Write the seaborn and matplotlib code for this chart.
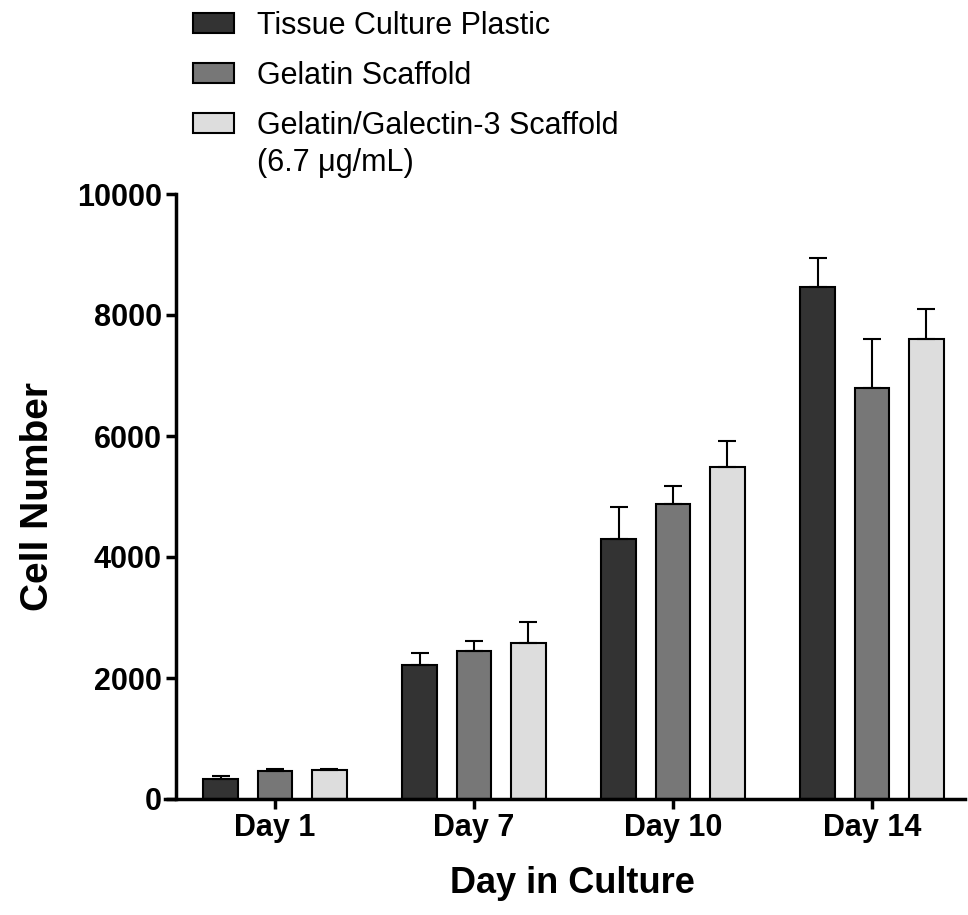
# Cell number over time on three culture substrates
import numpy as np
import pandas as pd
import matplotlib
matplotlib.use("Agg")
import matplotlib.pyplot as plt
import seaborn as sns

# Values
days = ["Day 1", "Day 7", "Day 10", "Day 14"]
substrates = ["Tissue Culture Plastic", "Gelatin Scaffold", "Gelatin/Galectin-3 Scaffold"]
tcp_mean = [330, 2215, 4290, 8460]
tcp_err = [55, 195, 535, 480]
gel_mean = [455, 2445, 4870, 6800]
gel_err = [45, 160, 310, 810]
gal_mean = [480, 2580, 5480, 7610]
gal_err = [20, 340, 430, 485]
colors = ["#333333", "#777777", "#dddddd"]

sns.set_style("ticks", {"axes.edgecolor": "black", "text.color": "black",
                        "xtick.color": "black", "ytick.color": "black",
                        "axes.labelcolor": "black"})
plt.rcParams["font.family"] = ["Liberation Sans", "DejaVu Sans"]

df = pd.DataFrame({
    "day": days * 3,
    "substrate": np.repeat(substrates, len(days)),
    "cells": tcp_mean + gel_mean + gal_mean,
})
errs = [tcp_err, gel_err, gal_err]

fig = plt.figure(figsize=(9.68, 9.15), dpi=100)
ax = fig.add_axes([165 / 968, 116 / 915, 800 / 968, 605 / 915])

sns.barplot(data=df, x="day", y="cells", hue="substrate", hue_order=substrates,
            order=days, palette=colors, width=0.82, gap=0.36, errorbar=None,
            edgecolor="black", linewidth=1.5, legend=False, ax=ax)

# upper-only error bars on each bar
for cont, err in zip(ax.containers, errs):
    xs = [p.get_x() + p.get_width() / 2 for p in cont]
    ys = [p.get_height() for p in cont]
    ax.errorbar(xs, ys, yerr=[np.zeros(len(err)), err], fmt="none",
                ecolor="black", elinewidth=1.5, capsize=6.5, capthick=1.5, zorder=1)

ax.set_xlim(-0.553, 3.467)
ax.set_ylim(0, 10000)
ax.set_yticks([0, 2000, 4000, 6000, 8000, 10000])
sns.despine(ax=ax)
ax.spines["left"].set_position(("data", -0.5))
for s in ["left", "bottom"]:
    ax.spines[s].set_linewidth(2.5)
ax.tick_params(axis="both", width=2.5, length=7, labelsize=22, colors="black")
ax.tick_params(axis="y", pad=3)
ax.tick_params(axis="x", pad=3)
for lab in ax.get_xticklabels() + ax.get_yticklabels():
    lab.set_fontweight("bold")

ax.set_xlabel("Day in Culture", fontsize=26, fontweight="bold", va="top")
ax.xaxis.set_label_coords(0.509, -0.1107)
ax.set_ylabel("Cell Number", fontsize=28, fontweight="bold")
ax.yaxis.set_label_coords(-0.136, 0.5)

# legend above the plot
handles = [plt.Rectangle((0, 0), 1, 1, facecolor=c, edgecolor="black", linewidth=1.5)
           for c in colors]
leg = fig.legend(handles, substrates, loc="upper left",
                 bbox_to_anchor=(193 / 968, 1 - 11 / 915), frameon=False,
                 fontsize=22, borderpad=0, borderaxespad=0,
                 handlelength=1.35, handleheight=0.65, handletextpad=0.74,
                 labelspacing=0.65)
fig.canvas.draw()
bb = leg.get_texts()[2].get_window_extent().transformed(fig.transFigure.inverted())
fig.text(bb.x0, bb.y0 - 37 / 915, "(6.7 μg/mL)", fontsize=22, va="bottom", ha="left")

fig.savefig("out.png", dpi=100)
